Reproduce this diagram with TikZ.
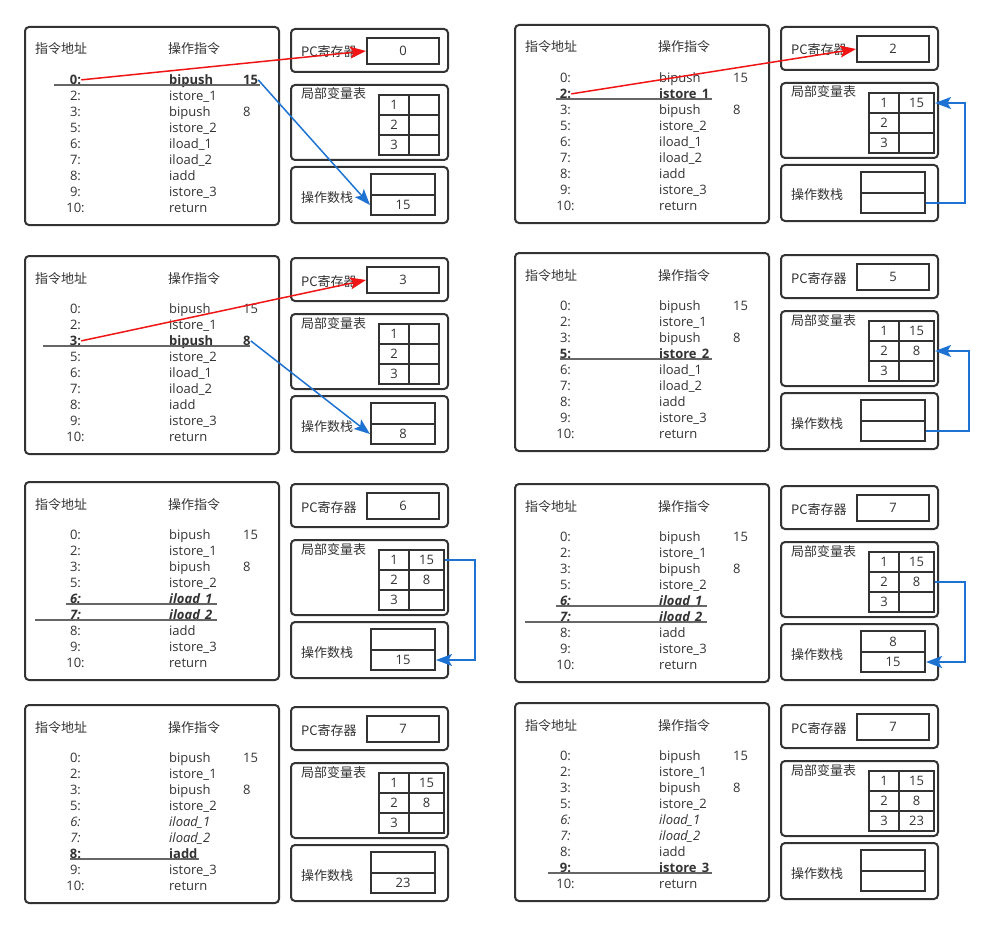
\documentclass[tikz,border=0pt]{standalone}
\usepackage{fontspec}
\setmainfont{Open Sans}
\newfontfamily\cjk{Noto Sans CJK SC}
\usetikzlibrary{arrows.meta}

\definecolor{ink}{RGB}{51,51,51}
\definecolor{pcred}{RGB}{240,20,20}
\definecolor{moveblue}{RGB}{30,115,210}

\tikzset{
  outer/.style={draw=ink, line width=2pt, rounded corners=4pt},
  cell/.style={draw=ink, line width=2pt, minimum width=30pt, minimum height=20pt,
    inner sep=0pt, text=ink, font=\fontsize{13}{15}\selectfont},
  head/.style={anchor=base west, inner sep=0pt, text=ink, font=\cjk\fontsize{13}{15}\selectfont},
  txt/.style={inner sep=0pt, text=ink, font=\fontsize{13}{15}\selectfont},
  txtb/.style={txt, font=\fontsize{13}{15}\selectfont\bfseries},
  txti/.style={txt, font=\fontsize{13}{15}\selectfont\itshape},
  txtbi/.style={txt, font=\fontsize{13}{15}\selectfont\bfseries\itshape},
  hit/.style={draw=ink!75, line width=1.2pt},
  tojump/.style={draw=pcred, line width=1.5pt, -{Stealth[length=16pt, width=12pt, inset=3.5pt]}},
  tomove/.style={draw=moveblue, line width=1.5pt, -{Stealth[length=16pt, width=12pt, inset=3.5pt]}},
}

% byte code on the left, #1..#9 style of each line
\newcommand{\bytecode}[9]{
  \draw[outer] (0,0) rectangle (254,198);
  \node[head] (ha) at (10,27) {指令地址};
  \node[head] (hb) at (143,27) {操作指令};
  \foreach \ad/\ins/\val/\s [count=\k from 0] in {0:/bipush/15/#1, 2:/istore\_1//#2,
      3:/bipush/8/#3, 5:/istore\_2//#4, 6:/iload\_1//#5, 7:/iload\_2//#6,
      8:/iadd//#7, 9:/istore\_3//#8, 10:/return//#9}{
    \pgfmathsetmacro\y{57.5+16*\k}
    \node[\s, anchor=base] (a\k) at (50.5,\y) {\ad};
    \node[\s, anchor=base west] (i\k) at (144,\y) {\ins};
    \node[\s, anchor=base west] (o\k) at (218,\y) {\val};
  }
}

% pc, local variables and operand stack, #7 = width of the value column
\newcommand{\machine}[7]{
  \draw[outer] (266,2) rectangle (423,45);
  \node[head] (hp) at (276,30) {PC寄存器};
  \node[cell, minimum width=72pt, minimum height=26pt] (pc) at (378,24) {#1};
  \draw[outer] (266,58) rectangle (423,133);
  \node[head] (hl) at (276,72) {局部变量表};
  \foreach \n/\v [count=\k] in {1/#2, 2/#3, 3/#4}{
    \node[cell] (v\k) at (369,58+20*\k) {\n};
    \node[cell, minimum width=#7pt] (w\k) at (384+#7/2,58+20*\k) {\v};
  }
  \draw[outer] (266,140) rectangle (423,196);
  \node[head] (hs) at (276,175) {操作数栈};
  \node[cell, minimum width=64pt, minimum height=20.5pt] (s1) at (378,157.5) {#5};
  \node[cell, minimum width=64pt] (s2) at (378,178) {#6};
}

\begin{document}
\begin{tikzpicture}[x=1pt, y=-1pt]
  \fill[white] (0,0) rectangle (992,928);
  \useasboundingbox (0,0) rectangle (992,928);

  % 0: bipush 15
  \begin{scope}[shift={(25,27)}]
    \bytecode{txtb}{txt}{txt}{txt}{txt}{txt}{txt}{txt}{txt}
    \machine{0}{}{}{}{}{15}{30}
    \draw[hit] (29,58) -- (235,58);
    \draw[tojump] (a0.east) -- (pc.west);
    \draw[tomove] (o0.east) -- (s2.west);
  \end{scope}

  % 2: istore_1
  \begin{scope}[shift={(515,25)}]
    \bytecode{txt}{txtb}{txt}{txt}{txt}{txt}{txt}{txt}{txt}
    \machine{2}{15}{}{}{}{}{35}
    \draw[hit] (41,74) -- (197,74);
    \draw[tojump] (a1.east) -- (pc.west);
    \draw[tomove] (s2.east) -- ++(39,0) |- (w1.east);
  \end{scope}

  % 3: bipush 8
  \begin{scope}[shift={(25,256)}]
    \bytecode{txt}{txt}{txtb}{txt}{txt}{txt}{txt}{txt}{txt}
    \machine{3}{}{}{}{}{8}{30}
    \draw[hit] (18,90) -- (225,90);
    \draw[tojump] (a2.east) -- (pc.west);
    \draw[tomove] (o2.east) -- (s2.west);
  \end{scope}

  % 5: istore_2
  \begin{scope}[shift={(515,253)}]
    \bytecode{txt}{txt}{txt}{txtb}{txt}{txt}{txt}{txt}{txt}
    \machine{5}{15}{8}{}{}{}{35}
    \draw[hit] (45,106) -- (197,106);
    \draw[tomove] (s2.east) -- ++(43,0) |- (w2.east);
  \end{scope}

  % 6: iload_1
  \begin{scope}[shift={(25,482)}]
    \bytecode{txt}{txt}{txt}{txt}{txtbi}{txtbi}{txt}{txt}{txt}
    \machine{6}{15}{8}{}{}{15}{35}
    \draw[hit] (41,122) -- (192,122);
    \draw[hit] (10,138) -- (192,138);
    \draw[tomove] (w1.east) -- ++(30,0) |- (s2.east);
  \end{scope}

  % 7: iload_2
  \begin{scope}[shift={(515,484)}]
    \bytecode{txt}{txt}{txt}{txt}{txtbi}{txtbi}{txt}{txt}{txt}
    \machine{7}{15}{8}{}{8}{15}{35}
    \draw[hit] (41,122) -- (192,122);
    \draw[hit] (10,138) -- (192,138);
    \draw[tomove] (w2.east) -- ++(30,0) |- (s2.east);
  \end{scope}

  % 8: iadd
  \begin{scope}[shift={(25,705)}]
    \bytecode{txt}{txt}{txt}{txt}{txti}{txti}{txtb}{txt}{txt}
    \machine{7}{15}{8}{}{}{23}{35}
    \draw[hit] (45,154) -- (174,154);
  \end{scope}

  % 9: istore_3
  \begin{scope}[shift={(515,703)}]
    \bytecode{txt}{txt}{txt}{txt}{txti}{txti}{txt}{txtb}{txt}
    \machine{7}{15}{8}{23}{}{}{35}
    \draw[hit] (33,170) -- (197,170);
  \end{scope}
\end{tikzpicture}
\end{document}
